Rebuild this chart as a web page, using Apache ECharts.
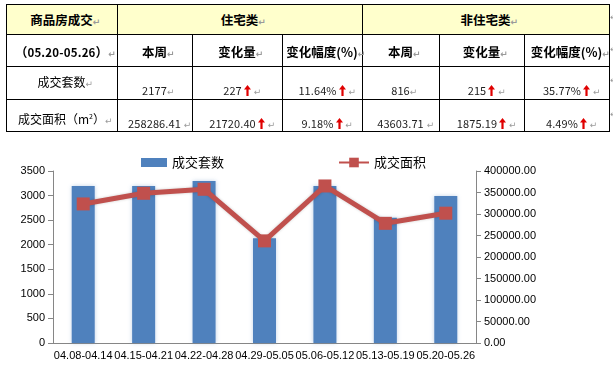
<!DOCTYPE html>
<html><head><meta charset="utf-8">
<script src="https://cdn.jsdelivr.net/npm/echarts@6/dist/echarts.min.js"></script>
<style>
html,body{margin:0;padding:0;background:#fff;width:613px;height:366px;overflow:hidden}
#chart{position:absolute;left:0;top:0;width:613px;height:366px}
#tbl{position:absolute;left:0;top:0;width:613px;height:140px}
.ln{position:absolute;background:#000}
.c{position:absolute;text-align:center;white-space:nowrap;font-family:"Noto Sans CJK SC";font-size:12px;color:#000;height:18px;line-height:18px}
.b{font-weight:bold;font-size:12.5px}
.n{font-family:"Noto Sans CJK SC";font-size:11px;letter-spacing:0.1px;color:#222}
.nb{font-family:"Noto Sans CJK SC";font-size:11.5px;font-weight:bold;letter-spacing:0.2px}
.pm{display:inline-block;width:0;color:#9a9a9a;font-family:"DejaVu Sans";font-size:9px;overflow:visible;text-align:left}
.ar{vertical-align:-1px;margin-left:2px}
</style></head>
<body>
<div id="chart"></div>
<div id="tbl"></div>
<script>
// ---- table data ----
var tableTitle = '商品房成交';
var groupNames = ['住宅类', '非住宅类'];
var periodLabel = '05.20-05.26';
var colHeaders = ['本周', '变化量', '变化幅度(%)'];
var rowLabels = ['成交套数', '成交面积'];
var resCount = ['2177', '227', '11.64%'];
var resArea = ['258286.41', '21720.40', '9.18%'];
var nonCount = ['816', '215', '35.77%'];
var nonArea = ['43603.71', '1875.19', '4.49%'];

// ---- chart data ----
var categories = ['04.08-04.14','04.15-04.21','04.22-04.28','04.29-05.05','05.06-05.12','05.13-05.19','05.20-05.26'];
var unitsSold = [3195, 3195, 3297, 2133, 3195, 2551, 2993];
var areaSold = [323400, 348200, 357500, 237500, 365200, 278295, 301890];
var leftTicks = {min: 0, max: 3500, interval: 500};
var rightTicks = {min: 0, max: 400000, interval: 50000};

// ---- build table ----
(function(){
  var t = document.getElementById('tbl');
  var xs = [6, 117, 192, 282, 362, 439, 524, 609];
  var ys = [4, 34, 66, 99, 131];
  function line(x, y, w, h){ var d=document.createElement('div'); d.className='ln'; d.style.left=x+'px'; d.style.top=y+'px'; d.style.width=w+'px'; d.style.height=h+'px'; t.appendChild(d); }
  var bg = document.createElement('div'); bg.style.cssText='position:absolute;left:6px;top:4px;width:603px;height:30px;background:#FFFFCC'; t.appendChild(bg);
  ys.forEach(function(y){ line(xs[0], y, xs[7]-xs[0]+1, 1); });
  [0,1,4,7].forEach(function(i){ line(xs[i], ys[0], 1, ys[4]-ys[0]+1); });
  [2,3,5,6].forEach(function(i){ line(xs[i], ys[1], 1, ys[4]-ys[1]+1); });
  function cell(x0, x1, cy, html, cls){ var d=document.createElement('div'); d.className='c'+(cls?' '+cls:''); d.style.left=x0+'px'; d.style.width=(x1-x0)+'px'; d.style.top=(cy-9)+'px'; d.innerHTML=html; t.appendChild(d); }
  var pm = '<span class="pm">↵</span>';
  var pms = '<span class="pm">&nbsp;↵</span>';
  var arrow = '<svg class="ar" width="7" height="11" viewBox="0 0 7 11"><path d="M3.5 0 L7 4.6 L4.6 4.6 L4.6 11 L2.4 11 L2.4 4.6 L0 4.6Z" fill="#e00000"/></svg>';
  cell(xs[0], xs[1], 20, tableTitle + pm, 'b');
  cell(xs[1], xs[4], 20, groupNames[0] + pm, 'b');
  cell(xs[4], xs[7], 20, groupNames[1] + pm, 'b');
  cell(xs[0], xs[1], 51.5, '（<span class="nb">' + periodLabel + '</span>）' + pm, 'b');
  for (var g=0; g<2; g++) for (var k=0; k<3; k++) {
    var i = 1 + g*3 + k;
    cell(xs[i], xs[i+1], 51.5, colHeaders[k] + pm, 'b');
  }
  cell(xs[0], xs[1], 82, rowLabels[0] + pm);
  cell(xs[0], xs[1], 116, rowLabels[1] + '（m<sup style="font-size:7px">2</sup>）' + pm);
  var rows = [[resCount, nonCount, 89.5], [resArea, nonArea, 123]];
  rows.forEach(function(r, ri){
    for (var g=0; g<2; g++) for (var k=0; k<3; k++) {
      var i = 1 + g*3 + k;
      var v = r[g][k];
      var html = '<span class="n">' + v + '</span>' + (k>0 ? arrow + pms : (ri===1 ? pms : pm));
      cell(xs[i], xs[i+1], r[2], html);
    }
  });
  [19, 51, 82, 116].forEach(function(y){ var d=document.createElement('div'); d.style.cssText='position:absolute;left:610px;top:'+(y-7)+'px;color:#9a9a9a;font:9px "DejaVu Sans"'; d.textContent='↵'; t.appendChild(d); });
})();

// ---- chart ----
var chart = echarts.init(document.getElementById('chart'));
var axisGray = '#868686';
chart.setOption({
  animation: false,
  textStyle: {fontFamily: 'Liberation Sans'},
  grid: {left: 53, right: 137, top: 171, bottom: 23},
  legend: [
    {data: [{name: '成交套数', icon: 'rect'}], left: 136, top: 151, itemWidth: 26, itemHeight: 9, itemGap: 6,
     textStyle: {fontFamily: 'Noto Sans CJK SC', fontSize: 13, color: '#000'}},
    {data: ['成交面积'], left: 333, top: 151, itemWidth: 30, itemHeight: 12, itemGap: 4,
     textStyle: {fontFamily: 'Noto Sans CJK SC', fontSize: 13, color: '#000'}}
  ],
  xAxis: {
    type: 'category', data: categories,
    axisLine: {lineStyle: {color: axisGray}},
    axisTick: {length: 4, lineStyle: {color: axisGray}},
    axisLabel: {color: '#000', fontSize: 11, interval: 0, margin: 7}
  },
  yAxis: [
    {type: 'value', min: leftTicks.min, max: leftTicks.max, interval: leftTicks.interval,
     axisLine: {show: true, lineStyle: {color: axisGray}},
     axisTick: {show: true, length: 5, lineStyle: {color: axisGray}},
     splitLine: {show: false},
     axisLabel: {color: '#000', fontSize: 11, margin: 8, formatter: function(v){ return String(v); }}},
    {type: 'value', position: 'right', min: rightTicks.min, max: rightTicks.max, interval: rightTicks.interval,
     axisLine: {show: true, lineStyle: {color: axisGray}},
     axisTick: {show: true, length: 5, lineStyle: {color: axisGray}},
     splitLine: {show: false},
     axisLabel: {color: '#000', fontSize: 11, margin: 8, formatter: function(v){ return v.toFixed(2); }}}
  ],
  series: [
    {name: '成交套数', type: 'bar', data: unitsSold, barWidth: 23,
     itemStyle: {color: '#4F81BD', shadowColor: 'rgba(79,129,189,0.35)', shadowBlur: 4}},
    {name: '成交面积', type: 'line', yAxisIndex: 1, data: areaSold, symbol: 'rect', symbolSize: 13,
     lineStyle: {width: 5, color: '#C0504D', shadowColor: 'rgba(0,0,0,0.2)', shadowBlur: 3},
     itemStyle: {color: '#C0504D'}}
  ]
});
</script>
</body></html>
